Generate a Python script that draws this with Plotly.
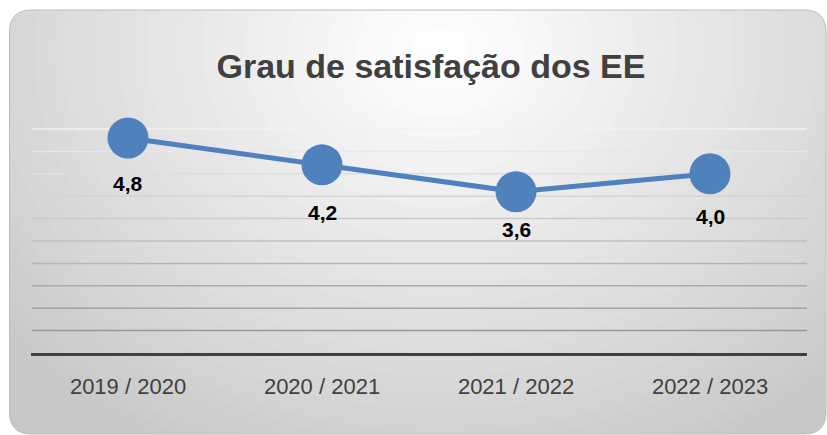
import plotly.graph_objects as go
import numpy as np

# data
seasons = ['2019 / 2020', '2020 / 2021', '2021 / 2022', '2022 / 2023']
satisfaction = [4.8, 4.2, 3.6, 4.0]
grid_levels = [0.5, 1.0, 1.5, 2.0, 2.5, 3.0, 3.5, 4.0, 4.5, 5.0]
chart_title = 'Grau de satisfação dos EE'

# page geometry (pixels)
W_PX, H_PX = 827, 435
L, R, T, B = 31, 20, 124, 82
PW, PH = W_PX - L - R, H_PX - T - B

def px(x):
    return (x - L) / PW

def py(y):
    return (H_PX - B - y) / PH

blue = '#4f81bd'
label_offsets = [46, 48, 38, 43]

fig = go.Figure()

fig.add_trace(go.Scatter(
    x=seasons, y=satisfaction,
    mode='lines+markers',
    line=dict(color=blue, width=5),
    marker=dict(color=blue, size=41),
    cliponaxis=False,
    hoverinfo='skip',
    showlegend=False,
))

# data labels under the markers
for s, v, off in zip(seasons, satisfaction, label_offsets):
    fig.add_annotation(
        x=s, y=v, text=f'{v:.1f}'.replace('.', ','),
        showarrow=False, yshift=-off,
        font=dict(family='Liberation Sans, Arial', size=21, color='#000000', weight='bold'),
    )

shapes = []

# rounded background panel
x0, x1, y0, y1, rad = 9.5, 826, 10, 434, 22
def rounded_path():
    pts = [
        f'M {px(x0 + rad)},{py(y0)}',
        f'L {px(x1 - rad)},{py(y0)}',
        f'Q {px(x1)},{py(y0)} {px(x1)},{py(y0 + rad)}',
        f'L {px(x1)},{py(y1 - rad)}',
        f'Q {px(x1)},{py(y1)} {px(x1 - rad)},{py(y1)}',
        f'L {px(x0 + rad)},{py(y1)}',
        f'Q {px(x0)},{py(y1)} {px(x0)},{py(y1 - rad)}',
        f'L {px(x0)},{py(y0 + rad)}',
        f'Q {px(x0)},{py(y0)} {px(x0 + rad)},{py(y0)}',
        'Z',
    ]
    return ' '.join(pts)

panel = rounded_path()
shapes.append(dict(type='path', path=panel, xref='paper', yref='paper',
                   fillcolor='#c8c8c8', line=dict(width=0), layer='below'))

# radial gradient built from stacked translucent white ellipses
cx, cy, rx, ry = 440, 50, 560, 450
N, p = 40, 1.5
dark = [((k - 0.5) / N) ** p for k in range(1, N + 1)] + [1.0]
for k in range(N, 0, -1):
    a = 1 - dark[k - 1] / dark[k]
    f = k / N
    shapes.append(dict(
        type='circle', xref='paper', yref='paper',
        x0=px(cx - rx * f), x1=px(cx + rx * f),
        y0=py(cy + ry * f), y1=py(cy - ry * f),
        fillcolor='white', opacity=a, line=dict(width=0), layer='below',
    ))

shapes.append(dict(type='path', path=panel, xref='paper', yref='paper',
                   fillcolor='rgba(0,0,0,0)', line=dict(color='#bdbdbd', width=1), layer='below'))

# gridlines, light at the top and darker towards the axis
for lv in grid_levels:
    t = (lv - grid_levels[0]) / (grid_levels[-1] - grid_levels[0])
    g = int(round(152 + t * (242 - 152)))
    shapes.append(dict(
        type='line', xref='paper', yref='y', x0=px(32), x1=1, y0=lv, y1=lv,
        line=dict(color=f'rgb({g},{g},{g})', width=1.5), layer='below',
    ))

fig.update_layout(
    width=W_PX, height=H_PX,
    margin=dict(l=L, r=R, t=T, b=B),
    paper_bgcolor='white',
    plot_bgcolor='rgba(0,0,0,0)',
    shapes=shapes,
    title=dict(
        text=chart_title, x=431 / W_PX, xanchor='center',
        y=1 - 66 / H_PX, yanchor='middle',
        font=dict(family='Liberation Sans, Arial', size=34, color='#404040', weight='bold'),
    ),
    xaxis=dict(
        type='category', range=[-0.5, 3.5], showgrid=False, zeroline=False,
        showline=True, linewidth=3, linecolor='#404040',
        ticks='', ticklabelstandoff=12,
        tickfont=dict(family='Liberation Sans, Arial', size=22, color='#404040'),
    ),
    yaxis=dict(
        range=[0, (H_PX - B - T) / 44.8], showgrid=False, zeroline=False,
        showticklabels=False, showline=False,
    ),
)

fig.write_html('out.html', config={'displayModeBar': False},
               post_script="document.body.style.margin='0';")
